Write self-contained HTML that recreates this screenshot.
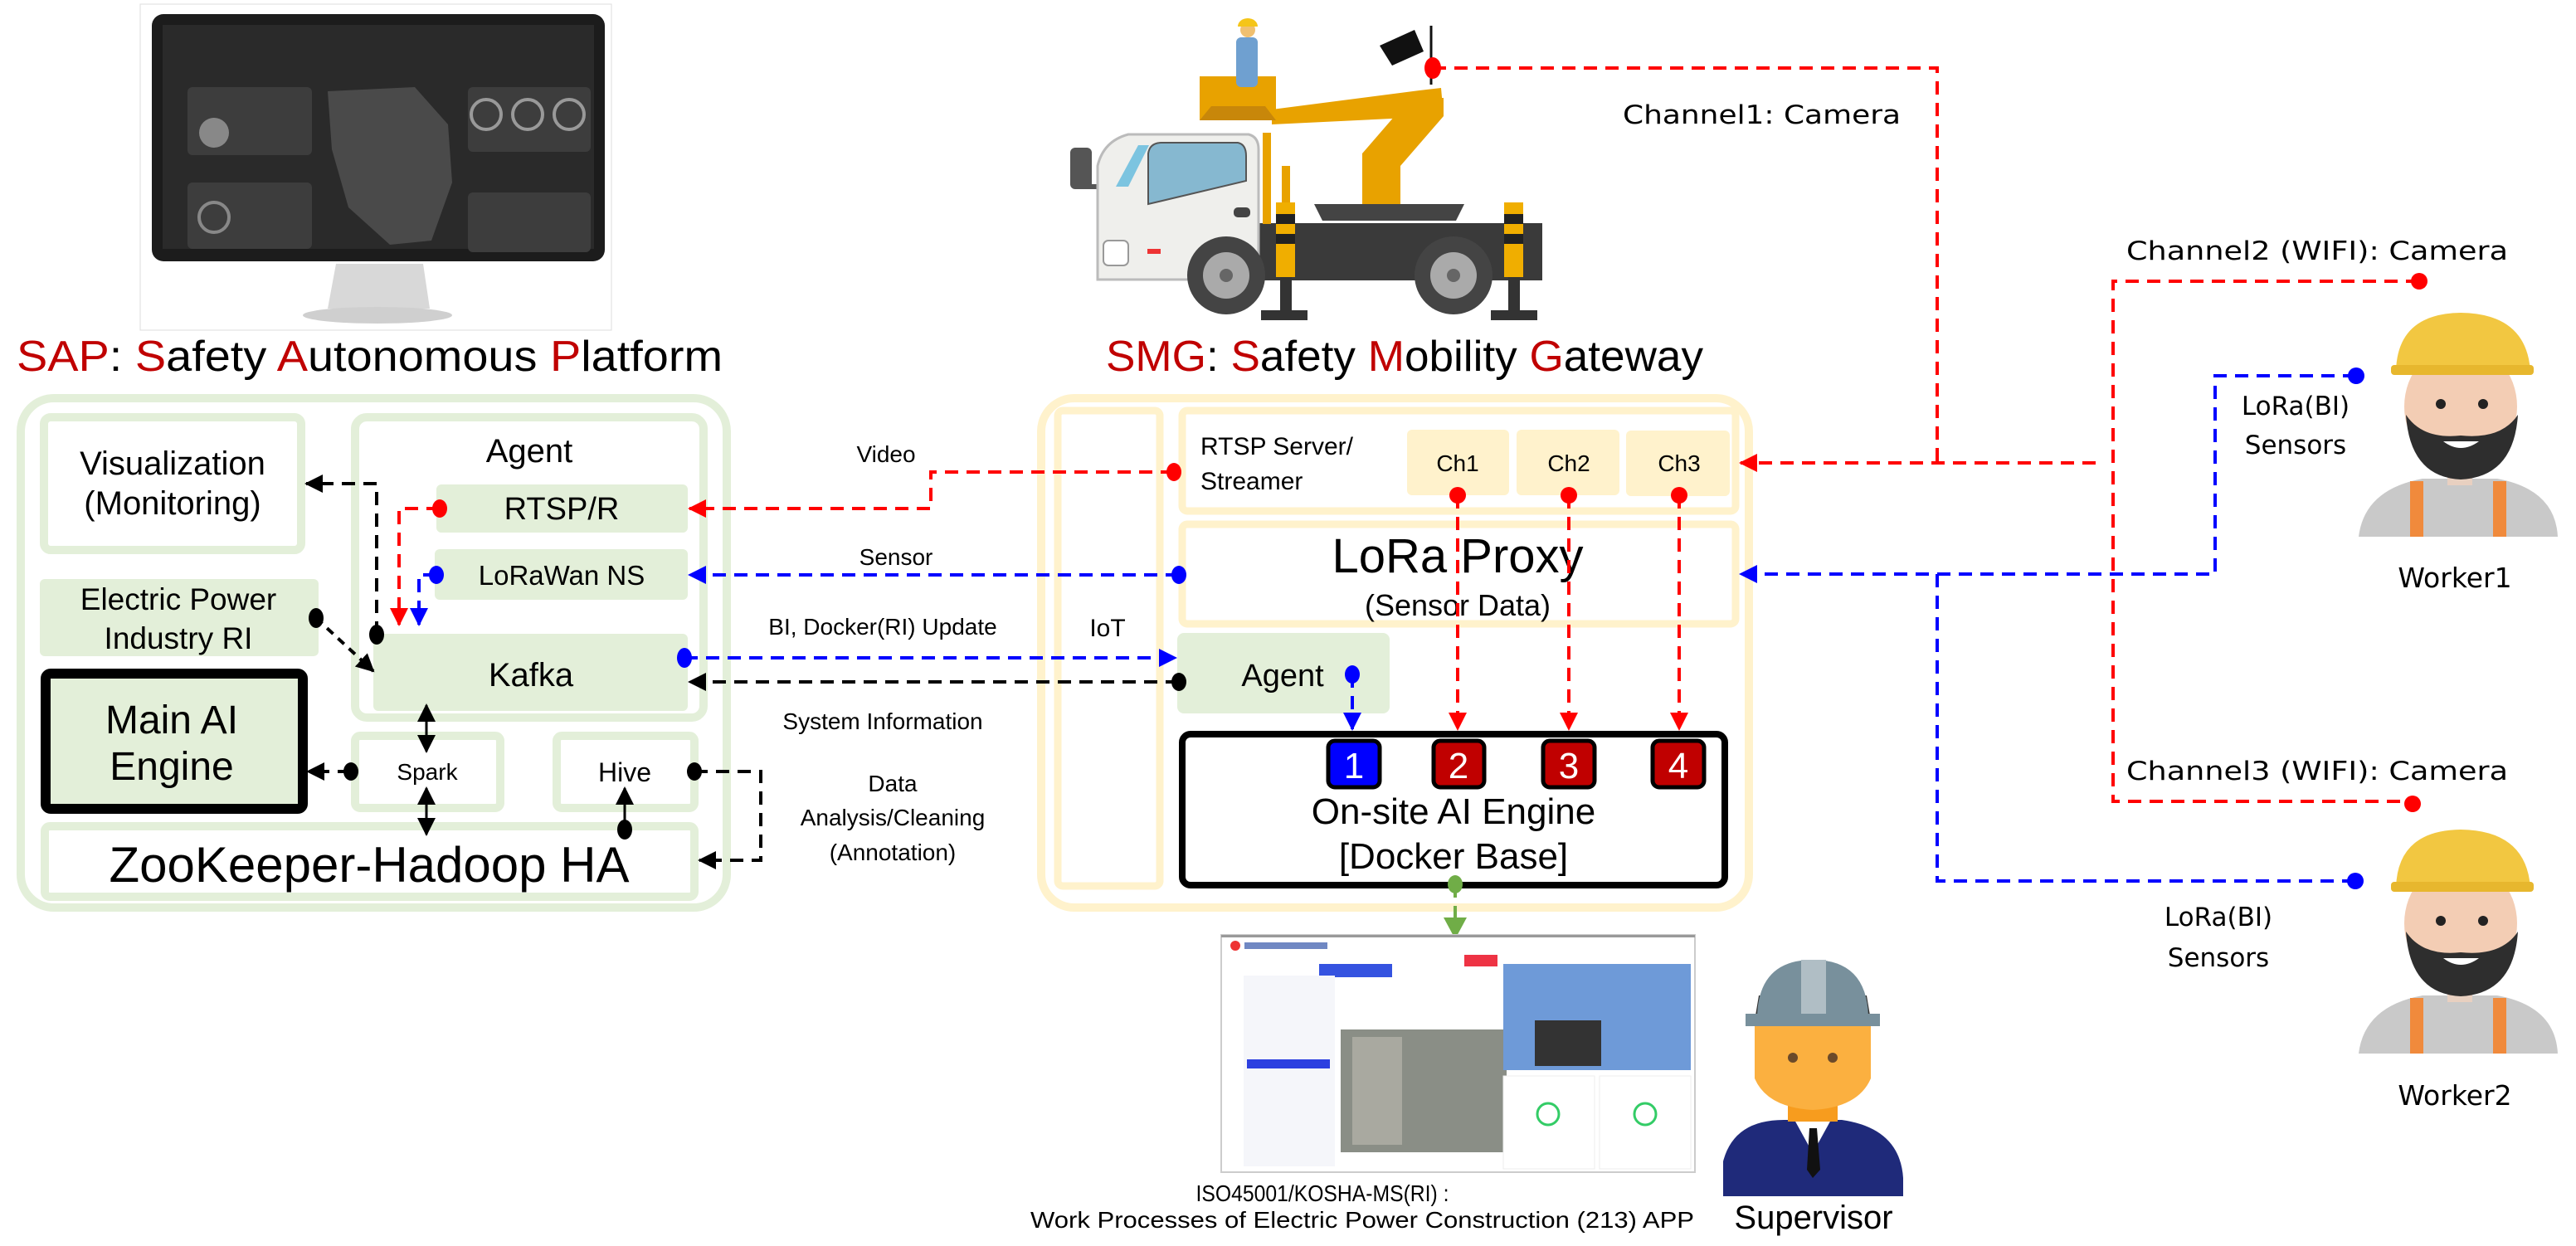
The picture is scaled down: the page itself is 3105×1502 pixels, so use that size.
<!DOCTYPE html>
<html><head><meta charset="utf-8"><style>
html,body{margin:0;padding:0;background:#fff;}
svg{display:block;}
text{font-family:"Liberation Sans","DejaVu Sans",sans-serif;fill:#000;}
.w{font-family:"DejaVu Sans","Liberation Sans",sans-serif;}
</style></head><body>
<svg width="3105" height="1502" viewBox="0 0 3105 1502" xmlns="http://www.w3.org/2000/svg">
<defs>
<marker id="ar" markerUnits="userSpaceOnUse" markerWidth="24" markerHeight="24" refX="20" refY="11" orient="auto"><path d="M0,0 L22,11 L0,22 Z" fill="#ff0000"/></marker>
<marker id="ab" markerUnits="userSpaceOnUse" markerWidth="24" markerHeight="24" refX="20" refY="11" orient="auto"><path d="M0,0 L22,11 L0,22 Z" fill="#0000ff"/></marker>
<marker id="ak" markerUnits="userSpaceOnUse" markerWidth="24" markerHeight="24" refX="20" refY="11" orient="auto"><path d="M0,0 L22,11 L0,22 Z" fill="#000"/></marker>
<marker id="aks" markerUnits="userSpaceOnUse" markerWidth="24" markerHeight="24" refX="2" refY="11" orient="auto"><path d="M22,0 L0,11 L22,22 Z" fill="#000"/></marker>
<marker id="ag" markerUnits="userSpaceOnUse" markerWidth="30" markerHeight="30" refX="24" refY="14" orient="auto"><path d="M0,0 L26,14 L0,28 Z" fill="#70ad47"/></marker>
</defs>

<!-- Monitor -->
<rect x="169" y="5" width="568" height="393" fill="#fff" stroke="#ddd" stroke-width="1"/>
<rect x="183" y="17" width="546" height="298" rx="14" fill="#1c1c1c"/>
<rect x="196" y="30" width="520" height="270" fill="#2a2a2a"/>
<rect x="226" y="105" width="150" height="82" rx="6" fill="#3d3d3d"/>
<rect x="564" y="105" width="148" height="78" rx="6" fill="#3d3d3d"/>
<rect x="564" y="232" width="148" height="72" rx="6" fill="#3d3d3d"/>
<path d="M395,110 L500,105 L540,150 L545,220 L520,290 L470,295 L420,250 L400,180 Z" fill="#4a4a4a"/>
<rect x="226" y="220" width="150" height="80" rx="6" fill="#3d3d3d"/>
<circle cx="258" cy="262" r="18" fill="none" stroke="#888" stroke-width="4"/>
<circle cx="258" cy="160" r="18" fill="#888"/>
<circle cx="586" cy="138" r="18" fill="none" stroke="#999" stroke-width="4"/>
<circle cx="636" cy="138" r="18" fill="none" stroke="#999" stroke-width="4"/>
<circle cx="686" cy="138" r="18" fill="none" stroke="#999" stroke-width="4"/>
<path d="M405,318 L510,318 L518,372 L395,372 Z" fill="#d8d8d8"/>
<ellipse cx="455" cy="380" rx="90" ry="10" fill="#cfcfcf"/>

<text x="20" y="447" font-size="52" textLength="851" lengthAdjust="spacingAndGlyphs"><tspan fill="#c00000">SAP</tspan>: <tspan fill="#c00000">S</tspan>afety <tspan fill="#c00000">A</tspan>utonomous <tspan fill="#c00000">P</tspan>latform</text>

<!-- Truck -->
<g>
<rect x="1290" y="178" width="26" height="50" rx="6" fill="#555"/>
<rect x="1310" y="222" width="30" height="6" fill="#555"/>
<rect x="1517" y="269" width="342" height="69" fill="#3a3a3a"/>
<path d="M1323,200 Q1330,170 1360,162 L1505,162 Q1517,165 1517,180 L1517,337 L1323,337 Z" fill="#efefec" stroke="#bbb" stroke-width="3"/>
<path d="M1345,225 L1372,175 L1385,175 L1360,225 Z" fill="#7cc4e0"/>
<path d="M1384,185 Q1386,172 1400,172 L1492,172 Q1502,174 1502,188 L1502,218 L1384,246 Z" fill="#86b8d0" stroke="#555" stroke-width="2"/>
<rect x="1330" y="290" width="30" height="30" rx="6" fill="#fff" stroke="#999" stroke-width="2"/>
<rect x="1383" y="300" width="16" height="6" fill="#e33"/>
<rect x="1487" y="250" width="20" height="12" rx="5" fill="#444"/>
<rect x="1522" y="160" width="10" height="110" fill="#e8a200"/>
<rect x="1545" y="200" width="10" height="70" fill="#e8a200"/>
<circle cx="1478" cy="332" r="47" fill="#444"/><circle cx="1478" cy="332" r="28" fill="#aaa"/><circle cx="1478" cy="332" r="8" fill="#666"/>
<circle cx="1752" cy="332" r="47" fill="#444"/><circle cx="1752" cy="332" r="28" fill="#aaa"/><circle cx="1752" cy="332" r="8" fill="#666"/>
<rect x="1538" y="244" width="23" height="90" fill="#f0ae00"/><rect x="1538" y="258" width="23" height="12" fill="#222"/><rect x="1538" y="282" width="23" height="12" fill="#222"/>
<rect x="1543" y="334" width="14" height="42" fill="#333"/><rect x="1520" y="374" width="56" height="12" fill="#333"/>
<rect x="1813" y="244" width="23" height="90" fill="#f0ae00"/><rect x="1813" y="258" width="23" height="12" fill="#222"/><rect x="1813" y="282" width="23" height="12" fill="#222"/>
<rect x="1818" y="334" width="14" height="42" fill="#333"/><rect x="1797" y="374" width="56" height="12" fill="#333"/>
<path d="M1584,246 L1765,246 L1755,266 L1594,266 Z" fill="#444"/>
<path d="M1642,246 L1642,185 L1700,118 L1740,118 L1740,140 L1688,200 L1688,246 Z" fill="#e8a200"/>
<path d="M1533,132 L1711,109 L1737,106 L1740,140 L1533,150 Z" fill="#e8a200"/>
<path d="M1446,92 L1538,92 L1538,145 L1446,145 Z" fill="#e8a200"/>
<path d="M1446,145 L1538,145 L1525,128 L1460,128 Z" fill="#c8870a"/>
<circle cx="1504" cy="36" r="9" fill="#f0c070"/><path d="M1492,32 a12,10 0 0 1 24,0 Z" fill="#f5c518"/>
<rect x="1490" y="45" width="26" height="60" rx="6" fill="#6fa0d0"/>
<path d="M1663,55 L1705,36 L1716,62 L1678,79 Z" fill="#111"/>
<line x1="1725" y1="31" x2="1725" y2="102" stroke="#111" stroke-width="3"/>
</g>
<text x="1333" y="447" font-size="52" textLength="720" lengthAdjust="spacingAndGlyphs"><tspan fill="#c00000">SMG</tspan>: <tspan fill="#c00000">S</tspan>afety <tspan fill="#c00000">M</tspan>obility <tspan fill="#c00000">G</tspan>ateway</text>

<!-- SAP boxes -->
<rect x="25" y="480" width="851" height="614" rx="40" fill="none" stroke="#e3efd9" stroke-width="10"/>
<rect x="53" y="503" width="310" height="160" rx="8" fill="#fff" stroke="#e3efd9" stroke-width="10"/>
<text x="208" y="572" font-size="40" text-anchor="middle">Visualization</text>
<text x="208" y="620" font-size="40" text-anchor="middle">(Monitoring)</text>
<rect x="428" y="503" width="420" height="362" rx="14" fill="#fff" stroke="#e3efd9" stroke-width="10"/>
<text x="638" y="557" font-size="40" text-anchor="middle">Agent</text>
<rect x="526" y="584" width="303" height="58" rx="6" fill="#e3efd9"/>
<text x="677" y="626" font-size="38" text-anchor="middle">RTSP/R</text>
<rect x="524" y="662" width="305" height="61" rx="6" fill="#e3efd9"/>
<text x="677" y="705" font-size="33" text-anchor="middle">LoRaWan NS</text>
<rect x="450" y="764" width="379" height="93" rx="6" fill="#e3efd9"/>
<text x="640" y="827" font-size="40" text-anchor="middle">Kafka</text>
<rect x="48" y="698" width="336" height="93" rx="6" fill="#e3efd9"/>
<text x="215" y="735" font-size="37" text-anchor="middle">Electric Power</text>
<text x="215" y="782" font-size="37" text-anchor="middle">Industry RI</text>
<rect x="55" y="812" width="310" height="163" rx="6" fill="#e3efd9" stroke="#000" stroke-width="12"/>
<text x="207" y="884" font-size="48" text-anchor="middle">Main AI</text>
<text x="207" y="940" font-size="48" text-anchor="middle">Engine</text>
<rect x="428" y="887" width="175" height="87" rx="6" fill="#fff" stroke="#e3efd9" stroke-width="10"/>
<text x="515" y="940" font-size="28" text-anchor="middle">Spark</text>
<rect x="671" y="887" width="166" height="87" rx="6" fill="#fff" stroke="#e3efd9" stroke-width="10"/>
<text x="753" y="942" font-size="32" text-anchor="middle">Hive</text>
<rect x="54" y="996" width="783" height="85" rx="6" fill="#fff" stroke="#e3efd9" stroke-width="10"/>
<text x="445" y="1063" font-size="60" text-anchor="middle">ZooKeeper-Hadoop HA</text>

<!-- Middle labels -->
<text x="1068" y="557" font-size="28" text-anchor="middle">Video</text>
<text x="1080" y="681" font-size="28" text-anchor="middle">Sensor</text>
<text x="1064" y="765" font-size="28" text-anchor="middle">BI, Docker(RI) Update</text>
<text x="1064" y="879" font-size="28" text-anchor="middle">System Information</text>
<text x="1076" y="954" font-size="28" text-anchor="middle">Data</text>
<text x="1076" y="995" font-size="28" text-anchor="middle">Analysis/Cleaning</text>
<text x="1076" y="1037" font-size="28" text-anchor="middle">(Annotation)</text>

<!-- SMG boxes -->
<rect x="1255" y="480" width="853" height="614" rx="40" fill="none" stroke="#fff2cc" stroke-width="10"/>
<rect x="1275" y="495" width="123" height="573" rx="6" fill="#fff" stroke="#fff2cc" stroke-width="9"/>
<text x="1335" y="767" font-size="30" text-anchor="middle">IoT</text>
<rect x="1425" y="495" width="667" height="121" rx="6" fill="#fff" stroke="#fff2cc" stroke-width="9"/>
<text x="1447" y="548" font-size="30">RTSP Server/</text>
<text x="1447" y="590" font-size="30">Streamer</text>
<rect x="1696" y="518" width="123" height="79" rx="6" fill="#fff2cc"/>
<rect x="1828" y="518" width="124" height="79" rx="6" fill="#fff2cc"/>
<rect x="1960" y="519" width="125" height="79" rx="6" fill="#fff2cc"/>
<text x="1757" y="568" font-size="28" text-anchor="middle">Ch1</text>
<text x="1891" y="568" font-size="28" text-anchor="middle">Ch2</text>
<text x="2024" y="568" font-size="28" text-anchor="middle">Ch3</text>
<rect x="1425" y="632" width="667" height="120" rx="6" fill="#fff" stroke="#fff2cc" stroke-width="9"/>
<text x="1757" y="690" font-size="58" text-anchor="middle">LoRa Proxy</text>
<text x="1757" y="742" font-size="36" text-anchor="middle">(Sensor Data)</text>
<rect x="1419" y="763" width="256" height="97" rx="8" fill="#e3efd9"/>
<text x="1546" y="827" font-size="38" text-anchor="middle">Agent</text>
<rect x="1425" y="885" width="654" height="182" rx="10" fill="#fff" stroke="#000" stroke-width="8"/>
<rect x="1601" y="893" width="62" height="56" rx="8" fill="#0000ff" stroke="#000" stroke-width="5"/>
<rect x="1728" y="893" width="61" height="56" rx="8" fill="#c00000" stroke="#000" stroke-width="5"/>
<rect x="1860" y="893" width="62" height="56" rx="8" fill="#c00000" stroke="#000" stroke-width="5"/>
<rect x="1992" y="893" width="62" height="56" rx="8" fill="#c00000" stroke="#000" stroke-width="5"/>
<text x="1632" y="938" font-size="44" text-anchor="middle" style="fill:#fff">1</text>
<text x="1758" y="938" font-size="44" text-anchor="middle" style="fill:#fff">2</text>
<text x="1891" y="938" font-size="44" text-anchor="middle" style="fill:#fff">3</text>
<text x="2023" y="938" font-size="44" text-anchor="middle" style="fill:#fff">4</text>
<text x="1752" y="993" font-size="44" text-anchor="middle">On-site AI Engine</text>
<text x="1752" y="1047" font-size="44" text-anchor="middle">[Docker Base]</text>

<!-- Connectors -->
<g fill="none" stroke-width="4" stroke-dasharray="16 10">
<path d="M1415,569 H1122 V613 H831" stroke="#ff0000" marker-end="url(#ar)"/>
<path d="M530,613 H481 V753" stroke="#ff0000" marker-end="url(#ar)"/>
<path d="M1727,82 H2335 V558"  stroke="#ff0000"/>
<path d="M2526,558 H2098" stroke="#ff0000" marker-end="url(#ar)"/>
<path d="M2916,339 H2547 V966 H2908" stroke="#ff0000"/>
<path d="M1757,597 V879" stroke="#ff0000" marker-end="url(#ar)"/>
<path d="M1891,597 V879" stroke="#ff0000" marker-end="url(#ar)"/>
<path d="M2024,597 V879" stroke="#ff0000" marker-end="url(#ar)"/>
<path d="M1421,693 H831" stroke="#0000ff" marker-end="url(#ab)"/>
<path d="M526,693 H505 V753" stroke="#0000ff" marker-end="url(#ab)"/>
<path d="M825,793 H1417" stroke="#0000ff" marker-end="url(#ab)"/>
<path d="M1630,813 V879" stroke="#0000ff" marker-end="url(#ab)"/>
<path d="M2840,453 H2670 V692 H2098" stroke="#0000ff" marker-end="url(#ab)"/>
<path d="M2335,692 V1062 H2839" stroke="#0000ff"/>
<path d="M454,765 V583 H369" stroke="#000" marker-end="url(#ak)"/>
<path d="M381,745 L450,809" stroke="#000" stroke-dasharray="10 8" marker-end="url(#ak)"/>
<path d="M1421,822 H831" stroke="#000" marker-end="url(#ak)"/>
<path d="M423,930 H371" stroke="#000" marker-end="url(#ak)"/>
<path d="M837,930 H917 V1037 H843" stroke="#000" marker-end="url(#ak)"/>
<path d="M1754,1066 V1130" stroke="#70ad47" marker-end="url(#ag)"/>
</g>
<g stroke="#000" stroke-width="3">
<path d="M514,850 V906" marker-start="url(#aks)" marker-end="url(#ak)"/>
<path d="M514,950 V1006" marker-start="url(#aks)" marker-end="url(#ak)"/>
<path d="M753,1000 V950" marker-end="url(#ak)"/>
</g>
<!-- dots -->
<g fill="#ff0000">
<ellipse cx="1415" cy="569" rx="9" ry="11"/><ellipse cx="530" cy="613" rx="9" ry="11"/>
<ellipse cx="1727" cy="82" rx="10" ry="13"/><circle cx="1757" cy="597" r="10"/><circle cx="1891" cy="597" r="10"/><circle cx="2024" cy="597" r="10"/>
<circle cx="2916" cy="339" r="10"/><circle cx="2908" cy="969" r="10"/>
</g>
<g fill="#0000ff">
<ellipse cx="1421" cy="693" rx="9" ry="11"/><ellipse cx="526" cy="693" rx="9" ry="11"/><ellipse cx="825" cy="793" rx="9" ry="12"/>
<ellipse cx="1630" cy="813" rx="9" ry="11"/><circle cx="2840" cy="453" r="10"/><circle cx="2839" cy="1062" r="10"/>
</g>
<g fill="#000">
<ellipse cx="454" cy="765" rx="9" ry="12"/><ellipse cx="381" cy="745" rx="9" ry="12"/><ellipse cx="1421" cy="822" rx="9" ry="11"/>
<ellipse cx="423" cy="930" rx="9" ry="11"/><ellipse cx="837" cy="930" rx="9" ry="11"/><ellipse cx="753" cy="1000" rx="9" ry="12"/>
</g>
<ellipse cx="1754" cy="1066" rx="9" ry="11" fill="#70ad47"/>

<!-- Right labels -->
<text class="w" x="1956" y="149" font-size="31" textLength="335" lengthAdjust="spacingAndGlyphs">Channel1: Camera</text>
<text class="w" x="2563" y="313" font-size="31" textLength="460" lengthAdjust="spacingAndGlyphs">Channel2 (WIFI): Camera</text>
<text class="w" x="2563" y="940" font-size="31" textLength="460" lengthAdjust="spacingAndGlyphs">Channel3 (WIFI): Camera</text>
<text class="w" x="2767" y="500" font-size="31" text-anchor="middle">LoRa(BI)</text>
<text class="w" x="2767" y="547" font-size="31" text-anchor="middle">Sensors</text>
<text class="w" x="2674" y="1116" font-size="31" text-anchor="middle">LoRa(BI)</text>
<text class="w" x="2674" y="1165" font-size="31" text-anchor="middle">Sensors</text>
<text class="w" x="2959" y="708" font-size="33" text-anchor="middle">Worker1</text>
<text class="w" x="2959" y="1332" font-size="33" text-anchor="middle">Worker2</text>

<!-- Workers -->
<g id="wk">
<path d="M2843,647 Q2850,590 2920,577 L3010,577 Q3080,590 3083,647 Z" fill="#c9c9c9"/>
<rect x="2905" y="580" width="16" height="67" fill="#f08a3c"/><rect x="3005" y="580" width="16" height="67" fill="#f08a3c"/>
<rect x="2950" y="560" width="30" height="25" fill="#e8d0c0"/>
<ellipse cx="2966" cy="490" rx="68" ry="75" fill="#f3cdb4"/>
<path d="M2900,500 Q2905,575 2966,578 Q3030,575 3035,500 Q3015,530 2966,525 Q2920,530 2900,500 Z" fill="#2e2e2e"/>
<path d="M2945,532 Q2966,548 2988,532 Z" fill="#fff"/>
<circle cx="2942" cy="487" r="6" fill="#222"/><circle cx="2993" cy="487" r="6" fill="#222"/>
<path d="M2888,447 Q2890,378 2966,377 Q3045,378 3050,447 Z" fill="#f2c741"/>
<rect x="2882" y="440" width="172" height="12" rx="4" fill="#e7b72e"/>
</g>
<use href="#wk" transform="translate(0,623)"/>

<!-- App screenshot -->
<rect x="1472" y="1127" width="571" height="286" fill="#fff" stroke="#ccc" stroke-width="2"/>
<rect x="1472" y="1127" width="571" height="3" fill="#999"/>
<circle cx="1489" cy="1140" r="6" fill="#e33"/>
<rect x="1500" y="1136" width="100" height="8" fill="#3355aa" opacity="0.7"/>
<rect x="1590" y="1162" width="88" height="16" fill="#3553e0"/>
<rect x="1765" y="1151" width="40" height="14" fill="#ee3344"/>
<rect x="1499" y="1176" width="110" height="230" fill="#f5f6fa"/>
<rect x="1503" y="1277" width="100" height="11" fill="#2d40e0"/>
<rect x="1616" y="1241" width="200" height="148" fill="#8a8e86"/>
<rect x="1630" y="1250" width="60" height="130" fill="#a9a9a0"/>
<rect x="1812" y="1162" width="226" height="128" fill="#6e9ad8"/>
<rect x="1850" y="1230" width="80" height="55" fill="#333"/>
<rect x="1812" y="1297" width="110" height="112" fill="#fff" stroke="#eee"/>
<rect x="1928" y="1297" width="110" height="112" fill="#fff" stroke="#eee"/>
<circle cx="1866" cy="1343" r="13" fill="none" stroke="#33cc66" stroke-width="3"/>
<circle cx="1983" cy="1343" r="13" fill="none" stroke="#33cc66" stroke-width="3"/>
<text x="1594" y="1448" font-size="28" text-anchor="middle" textLength="305" lengthAdjust="spacingAndGlyphs">ISO45001/KOSHA-MS(RI) :</text>
<text x="1642" y="1480" font-size="28" text-anchor="middle" textLength="800" lengthAdjust="spacingAndGlyphs">Work Processes of Electric Power Construction (213) APP</text>

<!-- Supervisor -->
<path d="M2077,1442 L2077,1400 Q2090,1350 2150,1350 L2220,1350 Q2290,1360 2294,1420 L2294,1442 Z" fill="#1f2a7a"/>
<path d="M2163,1350 L2185,1390 L2207,1350 Z" fill="#fff"/>
<path d="M2181,1360 L2190,1360 L2194,1410 L2185,1420 L2178,1410 Z" fill="#111"/>
<rect x="2155" y="1320" width="60" height="32" fill="#f79c1e"/>
<path d="M2115,1230 L2255,1230 L2255,1300 Q2240,1335 2185,1338 Q2130,1335 2115,1300 Z" fill="#fbb040"/>
<circle cx="2161" cy="1275" r="6" fill="#6b4a2a"/><circle cx="2209" cy="1275" r="6" fill="#6b4a2a"/>
<path d="M2115,1230 L2120,1200 L2250,1200 L2255,1230 Z" fill="#333"/>
<path d="M2118,1225 Q2120,1157 2185,1157 Q2250,1157 2252,1225 Z" fill="#78909c"/>
<rect x="2171" y="1157" width="30" height="65" fill="#b0bec5"/>
<rect x="2104" y="1222" width="162" height="15" fill="#78909c"/>
<text x="2186" y="1481" font-size="40" text-anchor="middle">Supervisor</text>
</svg>
</body></html>
